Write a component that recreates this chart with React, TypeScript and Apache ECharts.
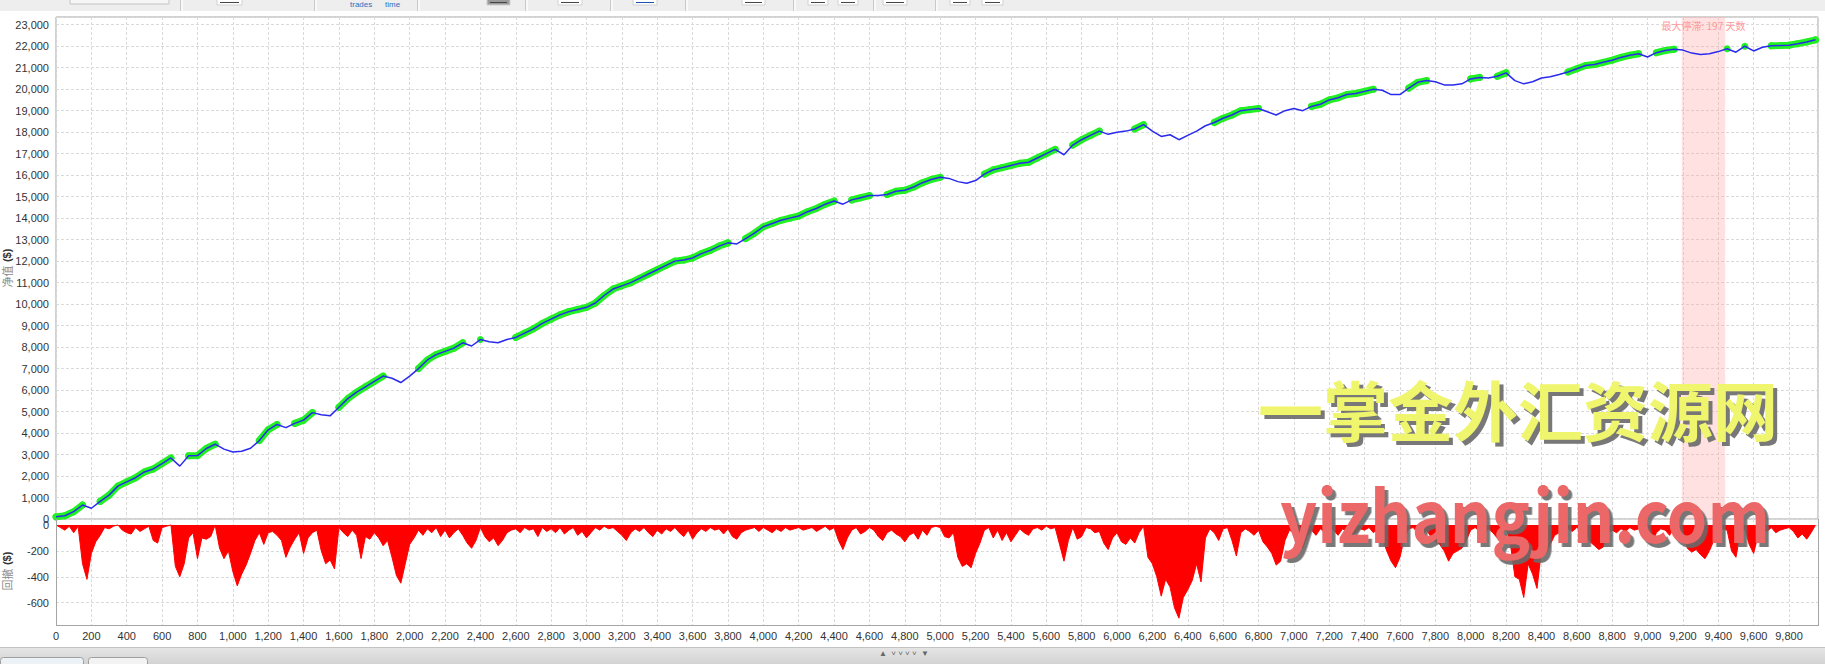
import React, { useEffect, useRef } from "react";
import * as echarts from "echarts";

// ---------- data ----------
const TRADE_STEP = 50; // equity sampled every 50 trades
const DD_STEP = 25; // drawdown sampled every 25 trades
const X_MAX = 9964;

const equity = [
  100, 150, 340, 650, 500, 820, 1110, 1530, 1730, 1920,
  2190, 2330, 2580, 2840, 2460, 2940, 2950, 3280, 3480, 3250,
  3120, 3150, 3290, 3650, 4150, 4400, 4250, 4450, 4600, 4950,
  4850, 4800, 5200, 5600, 5900, 6150, 6400, 6650, 6550, 6350,
  6650, 7000, 7400, 7650, 7800, 7950, 8200, 8050, 8350, 8250,
  8200, 8350, 8450, 8650, 8850, 9100, 9300, 9500, 9650, 9750,
  9850, 10050, 10400, 10700, 10850, 11000, 11200, 11400, 11600, 11800,
  12000, 12050, 12150, 12350, 12500, 12700, 12850, 12800, 13050, 13300,
  13600, 13750, 13900, 14000, 14100, 14300, 14450, 14650, 14800, 14650,
  14850, 14950, 15050, 15050, 15100, 15250, 15300, 15450, 15650, 15800,
  15900, 15850, 15700, 15620, 15750, 16050, 16250, 16350, 16450, 16550,
  16600, 16800, 17000, 17200, 16950, 17400, 17650, 17850, 18050, 17900,
  18000, 18050, 18150, 18350, 18050, 17800, 17880, 17650, 17850, 18050,
  18300, 18450, 18650, 18800, 19000, 19050, 19100, 18950, 18800, 19000,
  19100, 19000, 19200, 19300, 19500, 19600, 19750, 19800, 19900, 20000,
  19950, 19750, 19750, 20050, 20320, 20400, 20350, 20200, 20200, 20250,
  20480, 20550, 20520, 20600, 20760, 20400, 20250, 20350, 20520, 20580,
  20680, 20800, 20950, 21100, 21150, 21250, 21350, 21480, 21580, 21650,
  21500, 21700, 21800, 21860, 21820, 21680, 21620, 21650, 21750, 21880,
  21720, 22000, 21780, 21950, 22020, 22030, 22050, 22120, 22200, 22300,
];

const drawdown = [
  0, -20, -40, -10, -60, -10, -300, -420,
  -220, -130, -80, -20, -30, -10, 0, -40,
  -60, -70, -20, -50, -30, -10, -120, -140,
  -20, -10, 0, -320, -400, -300, -100, -60,
  -260, -100, -110, -90, 0, -180, -260, -200,
  -360, -470, -380, -310, -220, -120, -60, -150,
  -60, -50, -80, -120, -250, -170, -110, -60,
  -220, -100, -60, -40, -200, -300, -270, -340,
  -20, -60, -90, -40, -80, -260, -90, -110,
  -60, -100, -160, -120, -250, -390, -450, -300,
  -150, -100, -40, -80, -30, -60, -20, -90,
  -40, -100, -60, -30, -80, -140, -180, -120,
  -20, -90, -130, -100, -160, -120, -60, -40,
  -30, -60, -20, -40, -30, -90, -20, -50,
  -30, -60, -20, -70, -40, -20, -80, -50,
  -100, -60, -20, -40, -10, -30, -20, -50,
  -80, -120, -60, -30, -50, -20, -60, -90,
  -40, -70, -30, -50, -20, -60, -90, -40,
  -110, -60, -30, -50, -20, -40, -30, -70,
  -30, -90, -110, -60, -40, -30, -20, -50,
  -20, -40, -60, -30, -50, -20, -40, -30,
  -20, -40, -30, -20, -50, -30, -10, -40,
  -20, -120, -190, -100, -40, -20, -70, -50,
  -20, -40, -90, -120, -60, -40, -70, -90,
  -130, -80, -60, -110, -40, -80, -20, -10,
  -20, -90, -100, -60, -250, -320, -300, -330,
  -220, -140, -40, -20, -100, -40, -120, -60,
  -130, -80, -30, -60, -80, -30, -20, -40,
  -10, -30, -20, -150, -280, -120, -20, -110,
  -90, -20, -30, -60, -50, -140, -190, -100,
  -60, -130, -150, -100, -140, -60, -10, -250,
  -300, -400, -550, -420, -480, -640, -720, -560,
  -500, -430, -300, -440, -100, -30, -60, -120,
  -30, -20, -120, -240, -60, -30, -50, -80,
  -40, -130, -170, -220, -310, -280, -120, -40,
  -60, -150, -180, -90, -40, -80, -30, -60,
  -20, -40, -80, -30, -50, -90, -60, -30,
  -40, -20, -60, -30, -100, -200, -280, -330,
  -250, -100, -30, -20, -60, -80, -40, -90,
  -130, -150, -200, -280, -220, -200, -180, -120,
  -40, -20, -50, -70, -30, -60, -100, -80,
  -20, -150, -400, -420, -560, -300, -380, -490,
  -200, -220, -150, -80, -60, -90, -30, -50,
  -20, -40, -60, -130, -160, -190, -170, -60,
  -40, -60, -30, -50, -20, -40, -30, -60,
  -80, -150, -60, -30, -40, -80, -20, -30,
  -60, -180, -210, -190, -230, -260, -200, -120,
  -60, -30, -40, -200, -250, -60, -30, -150,
  -220, -80, -30, -50, -20, -60, -40, -30,
  -20, -50, -100, -70, -110, -60, 0,
];

const stagnationStart = 9194;
const stagnationEnd = 9439;
const stagnationLabel = "最大停滞: 197 天数";
const equityAxisName = ["净值", "($)"];
const drawdownAxisName = ["回撤", "($)"];
const watermarkCn = "一掌金外汇资源网";
const watermarkEn = "yizhangjin.com";
const toolbarLinks = ["trades", "time"];

// ---------- layout ----------
const W = 1825;
const H = 664;
const PLOT_L = 56;
const PLOT_R = 1818;
const TOP1 = 17;
const H1 = 502;
const TOP2 = 519;
const BOTTOM2 = 625;
const DD_MIN = -800;
const DD_MAX = 46;
const DD_PX = 0.1295;

const FONT = "'Liberation Sans', Arial, sans-serif";
const CJK = "'Noto Sans CJK SC', sans-serif";
const fmt = (v: number) => Math.round(v).toLocaleString("en-US");

export default function App() {
  const ref = useRef<HTMLDivElement>(null);

  useEffect(() => {
    const chart = echarts.init(ref.current!, null, { renderer: "svg" });

    const eqData = equity.map((v, i) => [i * TRADE_STEP, v]);
    let runMax = -Infinity;
    const isHigh = equity.map((v) => {
      const h = v > runMax;
      if (h) runMax = v;
      return h;
    });
    const greenData = equity.map((v, i) => [i * TRADE_STEP, isHigh[i] ? v : "-"]);
    const ddData = drawdown.map((v, i) => [i * DD_STEP, v]);

    const gridLine = {
      show: true,
      lineStyle: { color: "#DADADA", type: [3, 2], width: 1 },
    };
    const axisLabelBase = { fontSize: 11, color: "#333", fontFamily: FONT };

    const graphics: any[] = [];
    // toolbar
    graphics.push({ type: "rect", shape: { x: 0, y: 0, width: W, height: 11 }, style: { fill: "#EEEEEE" }, z: 50 });
    [180, 314, 417, 525, 610, 685, 793, 873, 935].forEach((x) => {
      graphics.push({ type: "rect", shape: { x, y: 0, width: 1, height: 11 }, style: { fill: "#C9C9C9" }, z: 51 });
      graphics.push({ type: "rect", shape: { x: x + 1, y: 0, width: 2, height: 11 }, style: { fill: "#F8F8F8" }, z: 51 });
    });
    graphics.push({ type: "rect", shape: { x: 70, y: -2, width: 99, height: 6 }, style: { fill: "#F6F6F6", stroke: "#C4C4C4", lineWidth: 1 }, z: 51 });
    [[217, 25], [487, 23], [558, 24], [633, 24], [742, 23], [808, 20], [838, 20], [883, 24], [950, 20], [982, 21]].forEach(([x, w], k) => {
      graphics.push({ type: "rect", shape: { x, y: -2, width: w, height: 7 }, style: { fill: k === 1 ? "#9A9A9A" : "#FFFFFF", stroke: "#D0D0D0", lineWidth: 1 }, z: 51 });
      graphics.push({ type: "rect", shape: { x: x + 3, y: 2, width: w - 6, height: 1 }, style: { fill: k === 3 ? "#2050B0" : "#444" }, z: 52 });
    });
    graphics.push({ type: "text", x: 350, y: 0.5, style: { text: toolbarLinks[0], fill: "#2F6FC0", fontSize: 8, fontFamily: FONT, verticalAlign: "top" }, z: 52 });
    graphics.push({ type: "text", x: 385, y: 0.5, style: { text: toolbarLinks[1], fill: "#2F6FC0", fontSize: 8, fontFamily: FONT, verticalAlign: "top" }, z: 52 });

    // lower panel cover + borders
    graphics.push({ type: "rect", shape: { x: PLOT_L - 1, y: BOTTOM2 + 1, width: PLOT_R - PLOT_L + 3, height: 6 }, style: { fill: "#FFFFFF" }, z: 40 });
    graphics.push({ type: "rect", shape: { x: PLOT_L, y: TOP2, width: 1, height: BOTTOM2 - TOP2 + 1 }, style: { fill: "#A5A5A5" }, z: 41 });
    graphics.push({ type: "rect", shape: { x: PLOT_R, y: TOP2, width: 1, height: BOTTOM2 - TOP2 + 1 }, style: { fill: "#A5A5A5" }, z: 41 });
    graphics.push({ type: "rect", shape: { x: PLOT_L, y: BOTTOM2, width: PLOT_R - PLOT_L + 1, height: 1 }, style: { fill: "#A5A5A5" }, z: 41 });

    // axis names
    const axisName = (parts: string[], cy: number) => ({
      type: "text",
      x: 7,
      y: cy,
      rotation: Math.PI / 2,
      style: {
        text: `{a|${parts[0]}} {b|${parts[1]}}`,
        align: "center",
        verticalAlign: "middle",
        rich: {
          a: { fontSize: 11, fontFamily: CJK, fill: "#8A8A8A" },
          b: { fontSize: 11, fontFamily: FONT, fontWeight: "bold", fill: "#333" },
        },
      },
      z: 45,
    });
    graphics.push(axisName(equityAxisName, 268));
    graphics.push(axisName(drawdownAxisName, 571));

    // bottom bar
    graphics.push({
      type: "rect",
      shape: { x: 0, y: 647, width: W, height: H - 647 },
      style: { fill: new echarts.graphic.LinearGradient(0, 0, 0, 1, [{ offset: 0, color: "#E6E6E6" }, { offset: 1, color: "#D3D3D3" }]) },
      z: 50,
    });
    graphics.push({ type: "rect", shape: { x: 0, y: 647, width: W, height: 1 }, style: { fill: "#C2C2C2" }, z: 51 });
    graphics.push({ type: "rect", shape: { x: 0.5, y: 657.5, width: 83, height: 10, r: [3, 3, 0, 0] }, style: { fill: "#EDF2F7", stroke: "#9E9E9E", lineWidth: 1 }, z: 51 });
    graphics.push({ type: "rect", shape: { x: 88.5, y: 657.5, width: 59, height: 10, r: [3, 3, 0, 0] }, style: { fill: "#F3F3F3", stroke: "#9E9E9E", lineWidth: 1 }, z: 51 });
    graphics.push({ type: "text", x: 904, y: 653, style: { text: "▲  ˅ ˅ ˅ ˅  ▼", fill: "#666", fontSize: 8, fontFamily: FONT, align: "center", verticalAlign: "middle" }, z: 52 });

    // watermark
    const wm = (text: string, x: number, y: number, size: number, sx: number, color: string) => ({
      type: "text",
      x,
      y,
      scaleX: sx,
      style: {
        text,
        fill: color,
        fontSize: size,
        fontWeight: "bold",
        fontFamily: CJK,
        align: "center",
        verticalAlign: "middle",
      },
      z: 100,
    });
    graphics.push(wm(watermarkCn, 1518, 408, 65, 1, "#EFF56C"));
    graphics.push(wm(watermarkEn, 1525, 512, 72, 0.9, "#EC6868"));

    chart.setOption({
      animation: false,
      backgroundColor: "#FFFFFF",
      grid: [
        { left: PLOT_L, top: TOP1, width: PLOT_R - PLOT_L, height: H1, show: true, borderColor: "#A5A5A5", borderWidth: 1, backgroundColor: "transparent" },
        { left: PLOT_L, top: TOP2, width: PLOT_R - PLOT_L, height: (DD_MAX - DD_MIN) * DD_PX, show: false },
      ],
      xAxis: [
        { gridIndex: 0, type: "value", min: 0, max: X_MAX, interval: 200, axisLine: { show: false }, axisTick: { show: false }, axisLabel: { show: false }, splitLine: gridLine },
        { gridIndex: 1, type: "value", min: 0, max: X_MAX, interval: 200, axisLine: { show: false }, axisTick: { show: false }, axisLabel: { ...axisLabelBase, formatter: fmt, margin: 2, showMaxLabel: false }, splitLine: gridLine },
      ],
      yAxis: [
        { gridIndex: 0, type: "value", min: 0, max: 23360, interval: 1000, axisLine: { show: false }, axisTick: { show: false }, axisLabel: { ...axisLabelBase, formatter: fmt, margin: 7, showMaxLabel: false }, splitLine: gridLine },
        { gridIndex: 1, type: "value", min: DD_MIN, max: DD_MAX, interval: 200, axisLine: { show: false }, axisTick: { show: false }, axisLabel: { ...axisLabelBase, formatter: fmt, margin: 7, showMaxLabel: false, showMinLabel: false }, splitLine: gridLine },
      ],
      series: [
        {
          type: "line",
          xAxisIndex: 0,
          yAxisIndex: 0,
          data: [],
          silent: true,
          z: 1,
          markArea: {
            silent: true,
            itemStyle: { color: "rgba(255,165,165,0.33)" },
            label: { show: true, position: "insideTop", distance: 3, color: "#FF9A9A", fontSize: 10, fontFamily: CJK },
            data: [[{ name: stagnationLabel, xAxis: stagnationStart }, { xAxis: stagnationEnd }]],
          },
        },
        {
          type: "line",
          xAxisIndex: 0,
          yAxisIndex: 0,
          data: greenData,
          connectNulls: false,
          showSymbol: true,
          showAllSymbol: true,
          symbol: "circle",
          symbolSize: 7,
          itemStyle: { color: "#22F022", borderWidth: 0 },
          lineStyle: { color: "#22F022", width: 7, cap: "round", join: "round" },
          silent: true,
          z: 3,
        },
        {
          type: "line",
          xAxisIndex: 0,
          yAxisIndex: 0,
          data: eqData,
          showSymbol: false,
          lineStyle: { color: "#2A2AEE", width: 1.5 },
          silent: true,
          z: 4,
        },
        {
          type: "line",
          xAxisIndex: 1,
          yAxisIndex: 1,
          data: ddData,
          showSymbol: false,
          lineStyle: { color: "#FF0000", width: 1 },
          areaStyle: { color: "#FF0000", opacity: 1 },
          silent: true,
          z: 3,
        },
      ],
      graphic: { elements: graphics },
    });

    // hard drop shadow on the watermark texts (the SVG text itself stays real text)
    const applyShadow = () => {
      const root = ref.current;
      if (!root) return;
      root.querySelectorAll("text").forEach((t) => {
        const s = (t.textContent || "").trim();
        if (s === watermarkCn || s === watermarkEn) {
          (t as any).style.filter = "drop-shadow(4px 4px 0px rgba(105,105,105,0.9))";
        }
      });
    };
    try {
      (chart.getZr() as any).flush();
    } catch (e) {}
    applyShadow();
    chart.on("finished", applyShadow);
    const timer = window.setTimeout(applyShadow, 50);

    return () => {
      window.clearTimeout(timer);
      chart.dispose();
    };
  }, []);

  return (
    <div
      ref={ref}
      style={{ position: "fixed", left: 0, top: 0, width: W, height: H, background: "#FFFFFF" }}
    />
  );
}
